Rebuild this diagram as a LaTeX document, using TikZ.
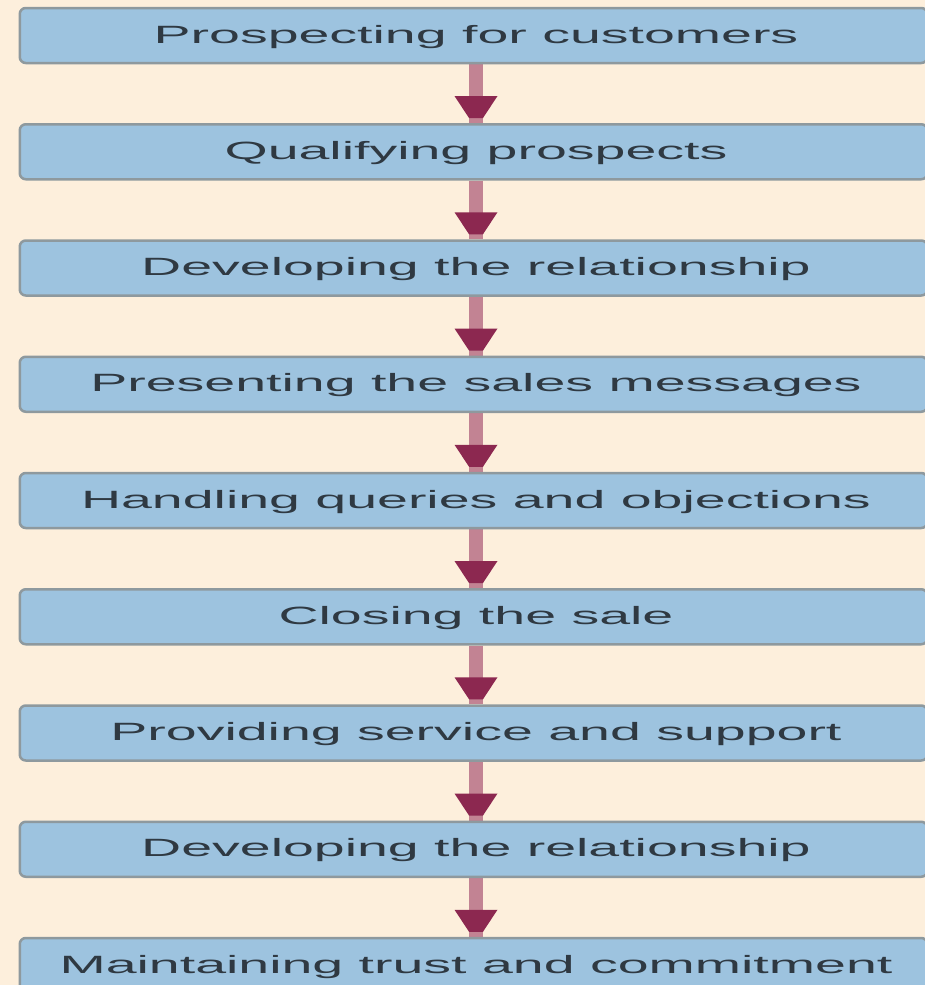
\documentclass[tikz,border=0pt]{standalone}
\usepackage{fontspec}
\setmainfont{Liberation Sans}
\usetikzlibrary{calc,backgrounds}
\definecolor{bgcream}{HTML}{FDEFDC}
\definecolor{boxblue}{HTML}{9DC3DF}
\definecolor{boxline}{HTML}{8E999E}
\definecolor{shaftpink}{HTML}{C28393}
\definecolor{headred}{HTML}{8C2850}
\definecolor{txt}{HTML}{2F3942}
\newcommand{\wtxt}[1]{\hspace{5pt}\scalebox{2.22}[1]{#1}}
\begin{document}
\begin{tikzpicture}[x=1pt,y=1pt,
  stepbox/.style={draw=boxline, line width=2.5pt, fill=boxblue, rounded corners=6pt,
    minimum width=907.5pt, minimum height=55pt, inner sep=0pt, text=txt,
    text height=16.5pt, text depth=1.5pt,
    font=\fontsize{25}{30}\selectfont, anchor=center},
  shaft/.style={draw=shaftpink, line width=14pt},
  head/.style={fill=headred}]
\useasboundingbox (0,0) rectangle (925,-985);
\foreach \k/\t in {1/Prospecting for customers,
                   2/Qualifying prospects,
                   3/Developing the relationship,
                   4/Presenting the sales messages,
                   5/Handling queries and objections,
                   6/Closing the sale,
                   7/Providing service and support,
                   8/Developing the relationship,
                   9/Maintaining trust and commitment}{
  \node[stepbox] (b\k) at (473.5, {-35.5-116.25*(\k-1)}) {\wtxt{\t}};
}
\begin{scope}[on background layer]
  \fill[bgcream] (0,0) rectangle (925,-985);
  \foreach \a/\b in {b1/b2,b2/b3,b3/b4,b4/b5,b5/b6,b6/b7,b7/b8,b8/b9}{
    \draw[shaft] ($(\a.south)+(2.5,0)$) -- ($(\b.north)+(2.5,0)$);
    \fill[head] ($(\b.north)+(-19,27)$) -- ($(\b.north)+(24,27)$)
      -- ($(\b.north)+(9.5,5)$) -- ($(\b.north)+(-4.5,5)$) -- cycle;
  }
\end{scope}
\end{tikzpicture}
\end{document}
